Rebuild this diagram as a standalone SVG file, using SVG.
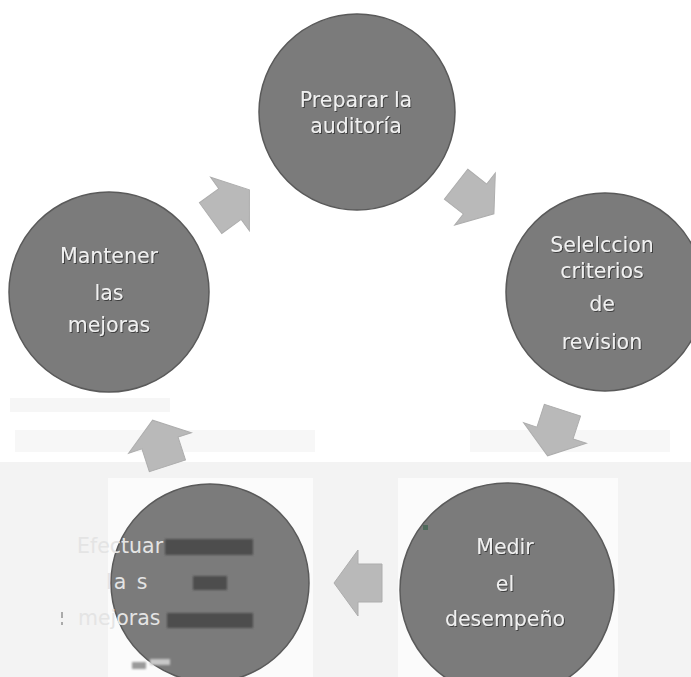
<svg xmlns="http://www.w3.org/2000/svg" width="691" height="677" viewBox="0 0 691 677">
  <defs>
    <filter id="sh" x="-20%" y="-20%" width="140%" height="140%">
      <feDropShadow dx="1" dy="1" stdDeviation="0.6" flood-color="#333" flood-opacity="0.8"/>
    </filter>
    <filter id="blur" x="-10%" y="-30%" width="120%" height="160%">
      <feGaussianBlur stdDeviation="1.2"/>
    </filter>
    <path id="arr" d="M -24,-19 H 0 V -33 L 24,0 L 0,33 V 19 H -24 Z"/>
  </defs>
  <style>
    .circ { fill: #7b7b7b; stroke: #5a5a5a; stroke-width: 1.5; }
    .lbl { font-family: "DejaVu Sans", Verdana, sans-serif; font-size: 20.5px; fill: #f0f0f0; text-anchor: middle; filter: url(#sh); }
    .lbl2 { font-family: "DejaVu Sans", Verdana, sans-serif; font-size: 20.5px; fill: #e4e4e4; }
    .arrow { fill: #b9b9b9; stroke: #adadad; stroke-width: 1; }
    .blk { fill: #4e4e4e; filter: url(#blur); }
  </style>

  <!-- background -->
  <rect x="0" y="0" width="691" height="677" fill="#ffffff"/>
  <rect x="0" y="462" width="691" height="215" fill="#f3f3f3"/>
  <rect x="108" y="478" width="205" height="199" fill="#fbfbfb"/>
  <rect x="398" y="478" width="220" height="199" fill="#fbfbfb"/>
  <rect x="10" y="398" width="160" height="14" fill="#f6f6f6"/>
  <rect x="15" y="430" width="300" height="22" fill="#f7f7f7"/>
  <rect x="470" y="430" width="200" height="22" fill="#f7f7f7"/>

  <!-- connectors -->
  <g id="connectors">
    <use href="#arr" class="arrow" transform="translate(230,204) rotate(-36)"/>
    <use href="#arr" class="arrow" transform="translate(475,199) rotate(38)"/>
    <use href="#arr" class="arrow" transform="translate(555,433) rotate(108)"/>
    <use href="#arr" class="arrow" transform="translate(358,583) rotate(180)"/>
    <use href="#arr" class="arrow" transform="translate(160,443) rotate(-108)"/>
  </g>

  <g id="preparar">
    <circle class="circ" cx="357" cy="112" r="98"/>
    <text class="lbl" x="356" y="107">Preparar la</text>
    <text class="lbl" x="356" y="133">auditoría</text>
  </g>

  <g id="seleccion">
    <circle class="circ" cx="605" cy="292" r="99"/>
    <text class="lbl" x="602" y="252">Selelccion</text>
    <text class="lbl" x="602" y="278">criterios</text>
    <text class="lbl" x="602" y="311">de</text>
    <text class="lbl" x="602" y="349">revision</text>
  </g>

  <g id="medir">
    <circle class="circ" cx="507" cy="590" r="107"/>
    <rect x="423" y="525" width="5" height="5" fill="#4f6a5c"/>
    <text class="lbl" x="505" y="554">Medir</text>
    <text class="lbl" x="505" y="591">el</text>
    <text class="lbl" x="505" y="626">desempeño</text>
  </g>

  <g id="efectuar">
    <circle class="circ" cx="210" cy="583" r="99"/>
    <text class="lbl2" x="77" y="553">Efectuar</text>
    <text class="lbl2" x="106" y="589" letter-spacing="2">la s</text>
    <text class="lbl2" x="78" y="625">mejoras</text>
    <rect class="blk" x="165" y="539" width="88" height="16"/>
    <rect class="blk" x="193" y="576" width="34" height="14"/>
    <rect class="blk" x="167" y="613" width="86" height="15"/>
    <rect x="61" y="612" width="2" height="6" fill="#aaa"/>
    <rect x="61" y="622" width="2" height="3" fill="#aaa"/>
    <rect x="132" y="662" width="14" height="7" fill="#9a9a9a" filter="url(#blur)"/>
    <rect x="150" y="659" width="20" height="6" fill="#c8c8c8" filter="url(#blur)"/>
  </g>

  <g id="mantener">
    <circle class="circ" cx="109" cy="292" r="100"/>
    <text class="lbl" x="109" y="263">Mantener</text>
    <text class="lbl" x="109" y="300">las</text>
    <text class="lbl" x="109" y="332">mejoras</text>
  </g>
</svg>
